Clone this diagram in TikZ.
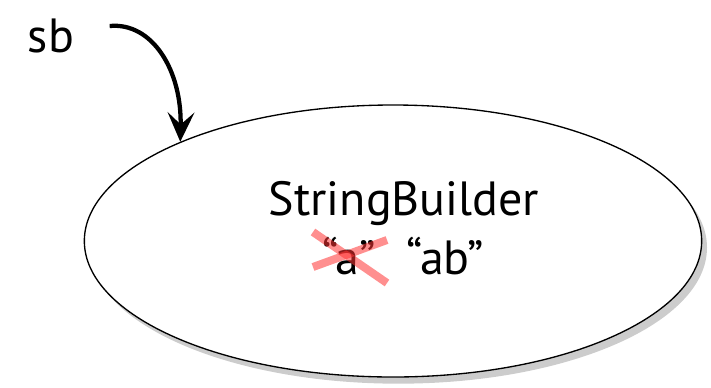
\documentclass[tikz,border=0pt]{standalone}
\usepackage{fontspec}
\setmainfont{PT Sans}
\usetikzlibrary{shapes,shadows,arrows.meta,positioning}

\begin{document}
\begin{tikzpicture}[x=0.75pt,y=-0.75pt,
  obj node/.style={ellipse,draw,line width=1pt,fill=white,minimum width=463pt,minimum height=204pt,
    drop shadow={shadow xshift=4pt,shadow yshift=-5pt,opacity=0.4}},
  text node/.style={inner sep=1pt,font=\fontsize{36}{42}\selectfont},
  strike/.style={draw=red!80,line width=6pt,opacity=0.55}]

  \useasboundingbox (0,0) rectangle (711,387);

  \node[obj node] (sbobj) at (393,241) {};
  \node[text node] (sb) at (51,36) {sb};
  \node[text node] (cls) at (404,203) {StringBuilder};
  \node[text node] (olda) at (349,256) {“a”};
  \node[text node] (newab) [right=21pt of olda] {“ab”};

  % reference arrow
  \draw[line width=3.2pt,-{Stealth[length=22pt,width=20pt,inset=9pt]}]
    (sb.east) ++(34,-10) coordinate (sbstart)
    (sbstart) .. controls (152,22) and (182,70) .. (sbobj.155);

  % crossed out value
  \draw[strike] ([shift={(-36,-24)}]olda.center) -- ([shift={(38,27)}]olda.center);
  \draw[strike] ([shift={(-36,11)}]olda.center) -- ([shift={(38,-16)}]olda.center);

\end{tikzpicture}
\end{document}
